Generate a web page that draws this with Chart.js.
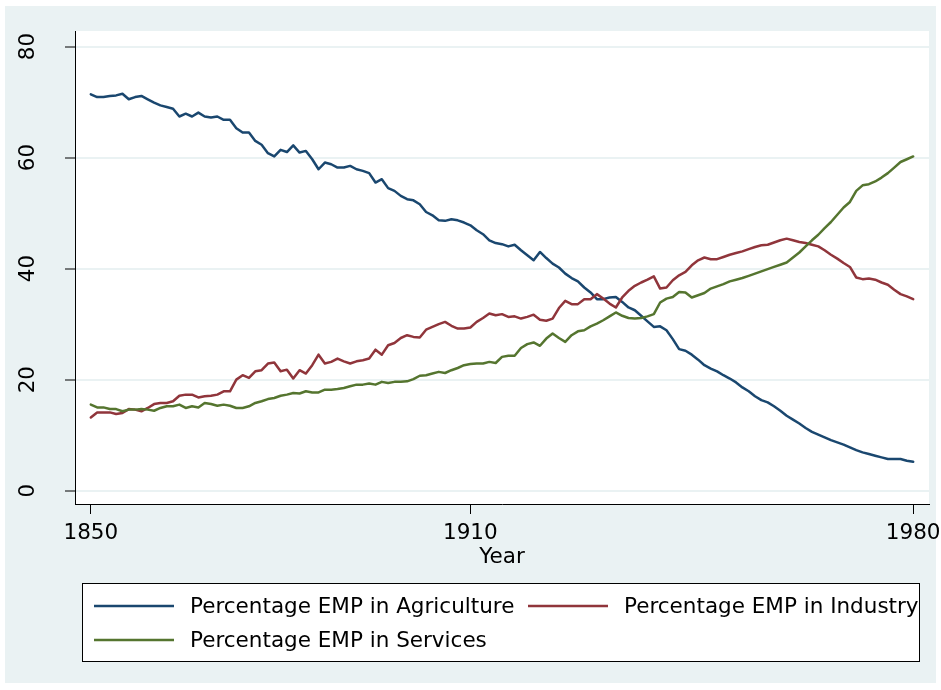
<!DOCTYPE html>
<html>
<head>
<meta charset="utf-8">
<title>Employment shares 1850-1980</title>
<script src="https://cdn.jsdelivr.net/npm/chart.js@4"></script>
<style>
    html, body { margin: 0; padding: 0; background: #fff; }
    canvas { display: block; }
</style>
</head>
<body>
<canvas id="empShareChart" width="941" height="690"></canvas>
<script>
const navy = '#1a476f';
const maroon = '#90353b';
const forest = '#55752f';
const regionBg = '#eaf2f3';
const fontFamily = '"DejaVu Sans", sans-serif';

const years = [
    1850, 1851, 1852, 1853, 1854, 1855, 1856, 1857, 1858, 1859,
    1860, 1861, 1862, 1863, 1864, 1865, 1866, 1867, 1868, 1869,
    1870, 1871, 1872, 1873, 1874, 1875, 1876, 1877, 1878, 1879,
    1880, 1881, 1882, 1883, 1884, 1885, 1886, 1887, 1888, 1889,
    1890, 1891, 1892, 1893, 1894, 1895, 1896, 1897, 1898, 1899,
    1900, 1901, 1902, 1903, 1904, 1905, 1906, 1907, 1908, 1909,
    1910, 1911, 1912, 1913, 1914, 1915, 1916, 1917, 1918, 1919,
    1920, 1921, 1922, 1923, 1924, 1925, 1926, 1927, 1928, 1929,
    1930, 1931, 1932, 1933, 1934, 1935, 1936, 1937, 1938, 1939,
    1940, 1941, 1942, 1943, 1944, 1945, 1946, 1947, 1948, 1949,
    1950, 1951, 1952, 1953, 1954, 1955, 1956, 1957, 1958, 1959,
    1960, 1961, 1962, 1963, 1964, 1965, 1966, 1967, 1968, 1969,
    1970, 1971, 1972, 1973, 1974, 1975, 1976, 1977, 1978, 1979,
    1980,
];

const agriculture = [
    71.4, 70.9, 70.9, 71.1, 71.2, 71.5, 70.5, 70.9, 71.1, 70.5,
    69.9, 69.4, 69.1, 68.8, 67.4, 67.9, 67.4, 68.1, 67.4, 67.2,
    67.4, 66.8, 66.8, 65.3, 64.5, 64.5, 63.0, 62.3, 60.8, 60.2,
    61.4, 61.0, 62.2, 60.9, 61.2, 59.7, 57.9, 59.1, 58.8, 58.2,
    58.2, 58.5, 57.9, 57.6, 57.2, 55.5, 56.1, 54.5, 54.0, 53.1,
    52.5, 52.3, 51.6, 50.2, 49.6, 48.7, 48.6, 48.9, 48.7, 48.3,
    47.8, 46.9, 46.2, 45.1, 44.6, 44.4, 44.0, 44.3, 43.3, 42.4,
    41.5, 43.0, 41.9, 40.9, 40.2, 39.1, 38.3, 37.7, 36.6, 35.7,
    34.5, 34.5, 34.8, 34.9, 34.0, 33.0, 32.5, 31.5, 30.5, 29.5,
    29.6, 28.9, 27.3, 25.5, 25.2, 24.5, 23.6, 22.6, 22.0, 21.5,
    20.8, 20.2, 19.5, 18.6, 17.9, 17.0, 16.3, 15.9, 15.2, 14.4,
    13.5, 12.8, 12.1, 11.3, 10.6, 10.1, 9.6, 9.1, 8.7, 8.3,
    7.8, 7.3, 6.9, 6.6, 6.3, 6.0, 5.7, 5.7, 5.7, 5.4,
    5.2,
];

const industry = [
    13.2, 14.1, 14.1, 14.1, 13.8, 14.0, 14.7, 14.6, 14.3, 14.9,
    15.6, 15.8, 15.8, 16.1, 17.1, 17.3, 17.3, 16.8, 17.0, 17.1,
    17.3, 17.9, 17.9, 20.0, 20.8, 20.3, 21.5, 21.7, 22.9, 23.1,
    21.5, 21.8, 20.2, 21.7, 21.1, 22.6, 24.5, 22.9, 23.2, 23.8,
    23.3, 22.9, 23.3, 23.5, 23.8, 25.4, 24.5, 26.2, 26.6, 27.5,
    28.0, 27.7, 27.6, 29.0, 29.5, 30.0, 30.4, 29.7, 29.2, 29.2,
    29.4, 30.4, 31.1, 31.9, 31.6, 31.8, 31.3, 31.4, 31.0, 31.3,
    31.7, 30.8, 30.6, 31.0, 32.9, 34.2, 33.6, 33.6, 34.5, 34.5,
    35.4, 34.6, 33.7, 33.0, 34.8, 36.0, 36.9, 37.5, 38.0, 38.6,
    36.4, 36.6, 37.9, 38.8, 39.4, 40.6, 41.5, 42.0, 41.7, 41.7,
    42.1, 42.5, 42.8, 43.1, 43.5, 43.9, 44.2, 44.3, 44.7, 45.1,
    45.4, 45.1, 44.8, 44.6, 44.3, 44.0, 43.3, 42.5, 41.8, 41.0,
    40.3, 38.4, 38.1, 38.2, 38.0, 37.5, 37.1, 36.2, 35.4, 35.0,
    34.5,
];

const services = [
    15.5, 15.0, 15.0, 14.7, 14.7, 14.3, 14.6, 14.6, 14.7, 14.6,
    14.4, 14.9, 15.2, 15.2, 15.5, 14.9, 15.2, 15.0, 15.8, 15.6,
    15.3, 15.5, 15.3, 14.9, 14.9, 15.2, 15.8, 16.1, 16.5, 16.7,
    17.1, 17.3, 17.6, 17.5, 17.9, 17.7, 17.7, 18.2, 18.2, 18.3,
    18.5, 18.8, 19.1, 19.1, 19.3, 19.1, 19.6, 19.4, 19.6, 19.6,
    19.7, 20.1, 20.7, 20.8, 21.1, 21.4, 21.2, 21.7, 22.1, 22.6,
    22.8, 22.9, 22.9, 23.2, 23.0, 24.1, 24.3, 24.3, 25.7, 26.4,
    26.7, 26.1, 27.4, 28.3, 27.5, 26.8, 28.0, 28.7, 28.9, 29.6,
    30.1, 30.7, 31.4, 32.1, 31.5, 31.1, 31.0, 31.1, 31.4, 31.8,
    33.9, 34.6, 34.9, 35.8, 35.7, 34.8, 35.2, 35.6, 36.4, 36.8,
    37.2, 37.7, 38.0, 38.3, 38.7, 39.1, 39.5, 39.9, 40.3, 40.7,
    41.1, 42.0, 42.9, 44.0, 45.1, 46.1, 47.3, 48.4, 49.7, 51.0,
    52.0, 54.0, 55.0, 55.2, 55.7, 56.4, 57.2, 58.2, 59.2, 59.7,
    60.2,
];

const seriesLabels = [
    'Percentage EMP in Agriculture',
    'Percentage EMP in Industry',
    'Percentage EMP in Services',
];
const xTicks = [1850, 1910, 1980];
const yTicks = [0, 20, 40, 60, 80];

const toPoints = values => values.map((v, i) => ({ x: years[i], y: v }));

// grey graph region, white plot region
const backdrop = {
    id: 'backdrop',
    beforeDraw(chart) {
        const { ctx, chartArea: area } = chart;
        ctx.save();
        ctx.fillStyle = '#fff';
        ctx.fillRect(0, 0, chart.width, chart.height);
        ctx.fillStyle = regionBg;
        ctx.fillRect(5, 6, 931, 677);
        ctx.fillStyle = '#fff';
        ctx.fillRect(area.left, area.top, area.right - area.left, area.bottom - area.top);
        ctx.restore();
    },
};

// boxed two-column legend under the axis title
const boxedLegend = {
    id: 'boxedLegend',
    afterDraw(chart) {
        const { ctx } = chart;
        const slots = [[94, 606], [528, 606], [94, 640]];
        ctx.save();
        ctx.fillStyle = '#fff';
        ctx.fillRect(82, 583, 837, 78);
        ctx.strokeStyle = '#000';
        ctx.lineWidth = 1;
        ctx.strokeRect(82.5, 583.5, 837, 78);
        ctx.font = `21.5px ${fontFamily}`;
        ctx.textBaseline = 'middle';
        ctx.textAlign = 'left';
        chart.data.datasets.forEach((ds, i) => {
            const [x, y] = slots[i];
            ctx.strokeStyle = ds.borderColor;
            ctx.lineWidth = 2.5;
            ctx.beginPath();
            ctx.moveTo(x, y);
            ctx.lineTo(x + 80, y);
            ctx.stroke();
            ctx.fillStyle = '#000';
            ctx.fillText(ds.label, x + 96, y + 1);
        });
        ctx.restore();
    },
};

function initEmploymentChart() {
    const canvas = document.getElementById('empShareChart');
    const lineStyle = {
        fill: false,
        tension: 0,
        borderWidth: 2.5,
        pointRadius: 0,
        borderJoinStyle: 'round',
        borderCapStyle: 'round',
    };

    new Chart(canvas, {
        type: 'line',
        data: {
            datasets: [
                { ...lineStyle, label: seriesLabels[0], data: toPoints(agriculture), borderColor: navy, order: 2 },
                { ...lineStyle, label: seriesLabels[1], data: toPoints(industry), borderColor: maroon, order: 1 },
                { ...lineStyle, label: seriesLabels[2], data: toPoints(services), borderColor: forest, order: 0 },
            ],
        },
        options: {
            responsive: false,
            animation: false,
            layout: { padding: { top: 31, right: 12, bottom: 120, left: 0 } },
            plugins: {
                legend: { display: false },
                tooltip: { enabled: false },
            },
            scales: {
                x: {
                    type: 'linear',
                    min: 1847.5,
                    max: 1982.5,
                    afterBuildTicks: scale => { scale.ticks = xTicks.map(v => ({ value: v })); },
                    afterFit: scale => {
                        scale.height = 66;
                        scale.paddingLeft = 0;
                        scale.paddingRight = 0;
                    },
                    grid: { drawOnChartArea: false, tickLength: 10, tickColor: '#000', tickWidth: 1 },
                    border: { color: '#000', width: 1 },
                    ticks: {
                        color: '#000',
                        padding: 7,
                        maxRotation: 0,
                        font: { family: fontFamily, size: 21.5 },
                        callback: value => String(value),
                    },
                    title: {
                        display: true,
                        text: 'Year',
                        color: '#000',
                        padding: { top: 0, bottom: 0 },
                        font: { family: fontFamily, size: 21.5 },
                    },
                },
                y: {
                    min: -2.4,
                    max: 82.8,
                    afterBuildTicks: scale => { scale.ticks = yTicks.map(v => ({ value: v })); },
                    afterFit: scale => {
                        scale.width = 75;
                        scale.paddingTop = 0;
                        scale.paddingBottom = 0;
                    },
                    grid: { color: regionBg, lineWidth: 2, tickLength: 10, tickColor: '#000', tickWidth: 1 },
                    border: { color: '#000', width: 1 },
                    ticks: {
                        color: '#000',
                        padding: 23,
                        minRotation: 90,
                        maxRotation: 90,
                        crossAlign: 'center',
                        font: { family: fontFamily, size: 21.5 },
                    },
                },
            },
        },
        plugins: [backdrop, boxedLegend],
    });
}

document.addEventListener('DOMContentLoaded', initEmploymentChart);
</script>
</body>
</html>
